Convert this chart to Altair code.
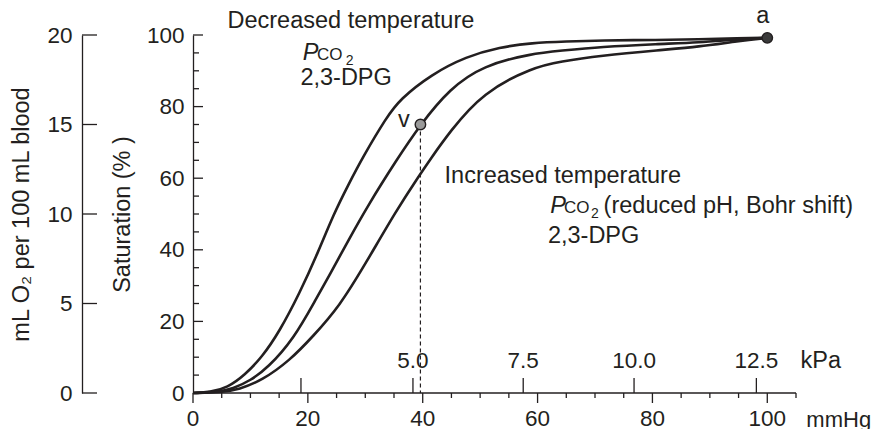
import altair as alt
import pandas as pd

# ---------------- data ----------------
left_p = [0, 3, 6, 9, 12, 15, 18.6, 21.7, 24.5, 27, 29.6, 33.7, 36, 41.5, 47.6, 53.4, 59, 65, 71, 81, 88, 95, 100]
left_s = [0, 0.2, 1.5, 5, 10, 17, 28, 39, 50, 58, 66, 77, 82, 89, 94, 96.6, 97.8, 98.2, 98.5, 98.6, 98.8, 99.1, 99.2]

mid_p = [0, 4, 7, 10, 13, 17.5, 21.5, 23.8, 27, 30.5, 35.4, 39.6, 44.7, 50.5, 59, 64, 71, 81, 88, 95, 100]
mid_s = [0, 0.2, 1.2, 3.5, 7, 15, 26.5, 33, 42.5, 52.5, 65, 75, 85, 91.5, 94.8, 95.6, 96.7, 97.5, 97.9, 98.8, 99.2]

right_p = [0, 5, 8, 12, 16.8, 21, 25.5, 30, 35.4, 39.5, 41.2, 44.7, 50.5, 59.2, 64, 70.8, 81.3, 88, 95, 100]
right_s = [0, 0.2, 1, 3.5, 9, 16, 24.2, 36, 51, 61, 65, 73, 84, 91, 92.6, 94.2, 95.8, 96.7, 98.3, 99.2]

curve_names = ["decreased", "normal", "increased"]

sat_major = [0, 20, 40, 60, 80, 100]
sat_minor = [5, 10, 15, 25, 30, 35, 45, 50, 55, 65, 70, 75, 85, 90, 95]
ml_ticks = [0, 5, 10, 15, 20]
mmhg_domain = [0, 105]
mmhg_major = [0, 20, 40, 60, 80, 100]
mmhg_minor = [5, 10, 15, 25, 30, 35, 45, 50, 55, 65, 70, 75, 85, 90, 95, 105]
kpa_pos = [18.8, 38.3, 57.5, 76.8, 98.1]
kpa_labels = ["", "5.0", "7.5", "10.0", "12.5"]

v_p, v_s = 39.6, 75
a_p, a_s = 100, 99.2

# annotation texts (data coordinates: mmHg, saturation)
normal_txt = [
    ("Decreased temperature", 6.0, 102.0),
    ("2,3-DPG", 18.7, 86.0),
    ("Increased temperature", 43.8, 58.7),
    ("(reduced pH, Bohr shift)", 71.5, 50.3),
    ("2,3-DPG", 61.8, 41.9),
    ("v", 35.7, 74.2),
    ("a", 98.1, 103.4),
    ("kPa", 105.8, 7.06),
]
unit_txt = [("mmHg", 106.8, -9.4)]
italic_txt = [("P", 19.1, 93.0), ("P", 62.2, 50.3)]
co_txt = [("CO", 21.6, 93.0), ("CO", 64.6, 50.3)]
sub_txt = [("2", 26.6, 91.5), ("2", 69.3, 48.9)]

# ---------------- build tables ----------------
rows = []
for name, ps, ss in zip(curve_names, [left_p, mid_p, right_p], [left_s, mid_s, right_s]):
    for i, (p, s) in enumerate(zip(ps, ss)):
        rows.append({"curve": name, "i": i, "p": p, "s": s})
curves_df = pd.DataFrame(rows)

W, H = 603, 358
INK = "#231f20"
FONT = "Liberation Sans"
NUM = 22.5
WORD = 23.5

xs = alt.Scale(domain=mmhg_domain, nice=False)
ys = alt.Scale(domain=[0, 100], nice=False)

sat_axis = alt.Axis(values=sat_major, ticks=False, tickSize=0, labelPadding=9, grid=False,
                    title="Saturation (% )", titlePadding=12, titleFont=FONT, titleFontSize=WORD,
                    titleFontWeight="normal", titleColor=INK,
                    labelFontSize=NUM, labelFont=FONT, labelColor=INK,
                    domainColor=INK, domainWidth=1.3, format="d")

ml_axis = alt.Axis(orient="left", offset=111, values=ml_ticks, ticks=False, tickSize=0,
                   labelPadding=10, grid=False, title="mL O₂ per 100 mL blood", titlePadding=13,
                   titleFont=FONT, titleFontSize=WORD, titleFontWeight="normal", titleColor=INK,
                   labelFontSize=NUM, labelFont=FONT, labelColor=INK,
                   domainColor=INK, domainWidth=1.3, format="d")


def ynone(field):
    return alt.Y(field, type="quantitative", scale=ys, axis=None)


def xnone(field):
    return alt.X(field, type="quantitative", scale=xs, axis=None)


curves = alt.Chart(curves_df).mark_line(interpolate="basis", strokeWidth=2.6, color=INK).encode(
    x=xnone("p"),
    y=alt.Y("s:Q", scale=ys, axis=sat_axis),
    detail="curve:N",
    order="i:Q",
)

sat_major_ticks = alt.Chart(pd.DataFrame({"s": sat_major})).mark_rule(color=INK, strokeWidth=1.3).encode(
    y=ynone("s"), x=alt.value(0), x2=alt.value(10))
sat_minor_ticks = alt.Chart(pd.DataFrame({"s": sat_minor})).mark_rule(color=INK, strokeWidth=1.3).encode(
    y=ynone("s"), x=alt.value(0), x2=alt.value(6))

# bottom mmHg axis
x_domain = alt.Chart(pd.DataFrame({"p0": [mmhg_domain[0]], "p1": [mmhg_domain[1]]})).mark_rule(
    color=INK, strokeWidth=1.3).encode(x=xnone("p0"), x2="p1:Q", y=alt.value(H))
x_major_ticks = alt.Chart(pd.DataFrame({"p": mmhg_major})).mark_rule(color=INK, strokeWidth=1.3).encode(
    x=xnone("p"), y=alt.value(H), y2=alt.value(H + 10))
x_minor_ticks = alt.Chart(pd.DataFrame({"p": mmhg_minor})).mark_rule(color=INK, strokeWidth=1.3).encode(
    x=xnone("p"), y=alt.value(H), y2=alt.value(H + 5))
x_labels = alt.Chart(pd.DataFrame({"p": mmhg_major, "t": [str(v) for v in mmhg_major]})).mark_text(
    font=FONT, fontSize=NUM, color=INK, align="center", baseline="alphabetic", dy=33).encode(
    x=xnone("p"), y=alt.value(H), text="t:N")

# kPa scale drawn on the same axis line
kpa_df = pd.DataFrame({"p": kpa_pos, "t": kpa_labels})
kpa_ticks = alt.Chart(kpa_df).mark_rule(color=INK, strokeWidth=1.3).encode(
    x=xnone("p"), y=alt.value(H), y2=alt.value(H - 15))
kpa_text = alt.Chart(kpa_df).mark_text(font=FONT, fontSize=NUM, color=INK, align="center",
                                        baseline="alphabetic", dy=-25).encode(
    x=xnone("p"), y=alt.value(H), text="t:N")

# outer O2-content axis
ml_layer = alt.Chart(pd.DataFrame({"ml": ml_ticks})).mark_rule(color=INK, strokeWidth=1.3).encode(
    y=alt.Y("ml:Q", scale=alt.Scale(domain=[0, 20], nice=False), axis=ml_axis),
    x=alt.value(-111), x2=alt.value(-96))

vdf = pd.DataFrame({"p": [v_p], "s": [v_s], "s0": [0]})
v_rule = alt.Chart(vdf).mark_rule(color=INK, strokeWidth=1.2, strokeDash=[4, 3]).encode(
    x=xnone("p"), y=ynone("s"), y2="s0:Q")
v_pt = alt.Chart(vdf).mark_point(shape="circle", filled=True, size=110, fill="#9a9a9a",
                                 stroke=INK, strokeWidth=1.4, opacity=1).encode(
    x=xnone("p"), y=ynone("s"))
adf = pd.DataFrame({"p": [a_p], "s": [a_s]})
a_pt = alt.Chart(adf).mark_point(shape="circle", filled=True, size=110, fill="#3a3a3a",
                                 stroke=INK, strokeWidth=1.4, opacity=1).encode(
    x=xnone("p"), y=ynone("s"))


def txt_layer(items, size, style="normal"):
    df = pd.DataFrame(items, columns=["t", "p", "s"])
    return alt.Chart(df).mark_text(font=FONT, fontSize=size, fontStyle=style, color=INK,
                                   align="left", baseline="alphabetic").encode(
        x=xnone("p"), y=ynone("s"), text="t:N")


t_normal = txt_layer(normal_txt, WORD)
t_unit = txt_layer(unit_txt, 22)
t_italic = txt_layer(italic_txt, WORD, "italic")
t_co = txt_layer(co_txt, 17)
t_sub = txt_layer(sub_txt, 14)

chart = alt.layer(
    curves, sat_major_ticks, sat_minor_ticks,
    x_domain, x_major_ticks, x_minor_ticks, x_labels,
    kpa_ticks, kpa_text,
    v_rule, v_pt, a_pt, t_normal, t_unit, t_italic, t_co, t_sub, ml_layer,
).resolve_scale(y="independent").properties(
    width=W, height=H,
    autosize=alt.AutoSizeParams(type="none"),
    padding={"left": 185, "top": 27, "right": 75, "bottom": 36},
    background="white",
).configure_view(stroke=None)

chart.save("out.html", embed_options={"renderer": "svg", "actions": False})
